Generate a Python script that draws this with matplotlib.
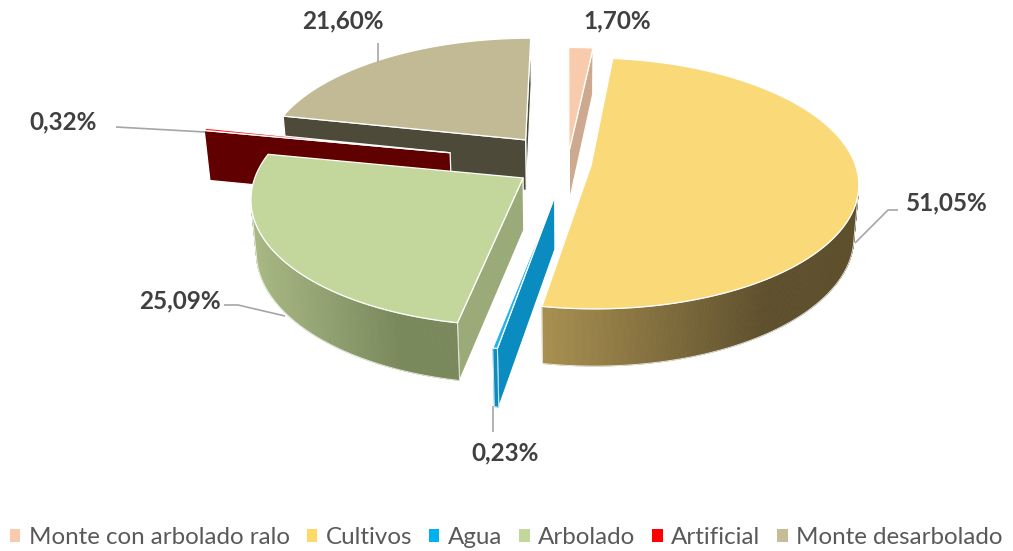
import numpy as np
import matplotlib
matplotlib.use("Agg")
import matplotlib.pyplot as plt
from matplotlib.patches import Polygon, Patch

# ---------------- data ----------------
categories = ["Monte con arbolado ralo", "Cultivos", "Agua", "Arbolado",
              "Artificial", "Monte desarbolado"]
shares = [1.70, 51.05, 0.23, 25.09, 0.32, 21.60]
value_labels = ["1,70%", "51,05%", "0,23%", "25,09%", "0,32%", "21,60%"]

# ---------------- styles ----------------
top_colors = ["#F8CBAD", "#F9D978", "#22B4EE", "#C3D69B", "#FF1A1A", "#C1BA94"]
legend_colors = ["#F8CBAD", "#FFD966", "#00B0F0", "#C3D69B", "#FF0000", "#C4BD97"]
wall_colors = [("#CDAA8F", "#CDAA8F"), ("#A89050", "#5E4F2D"), ("#0A8CC0", "#0A8CC0"),
               ("#A9B985", "#7A895C"), ("#600000", "#600000"), ("#4F4A3A", "#4F4A3A")]
radial_colors = ["#CDAA8F", "#6B5A33", "#0A8CC0", "#9AAA78", "#600000", "#4E4A3A"]
explode = [0.10, 0.09, 0.26, 0.20, 0.46, 0.26]

# projection (pixel space)
CX, CY = 567.5, 164.0
A = 264.0
S = 0.464
C = np.sqrt(1 - S ** 2)
K = 0.142
H = 0.224
DIST = C / K
CAM = np.array([0.0, -DIST * C, DIST * S])


def proj(x, y, z):
    x = np.asarray(x, float); y = np.asarray(y, float); z = np.asarray(z, float)
    den = 1 + K * y - K * (S / C) * z
    sx = CX + A * x / den
    sy = CY - (A * S * y + A * C * z) / den
    return sx, sy


def poly(xs, ys, zs):
    sx, sy = proj(xs, ys, zs)
    return np.column_stack([sx, sy])


def mix(c1, c2, f):
    a = np.array(matplotlib.colors.to_rgb(c1))
    b = np.array(matplotlib.colors.to_rgb(c2))
    return tuple(a + (b - a) * f)


fig = plt.figure(figsize=(10.13, 5.51), dpi=100)
ax = fig.add_axes([0, 0, 1, 1])
ax.set_xlim(0, 1013)
ax.set_ylim(551, 0)
ax.axis("off")

cum = np.concatenate([[0], np.cumsum(shares)]) / np.sum(shares)
slices = []
for i in range(len(shares)):
    a1 = np.deg2rad(90 - 360 * cum[i])
    a0 = np.deg2rad(90 - 360 * cum[i + 1])
    mid = (a0 + a1) / 2
    o = explode[i] * np.array([np.cos(mid), np.sin(mid)])
    key = o[1] + 0.5 * np.sin(mid)
    slices.append((key, i, a0, a1, o))
slices.sort(key=lambda s: -s[0])

edge_kw = dict(edgecolor="white", linewidth=0.9, joinstyle="round")

for key, i, a0, a1, o in slices:
    ox, oy = o
    # radial faces
    for a, n in ((a0, np.array([np.sin(a0), -np.cos(a0)])),
                 (a1, np.array([-np.sin(a1), np.cos(a1)]))):
        u = np.array([np.cos(a), np.sin(a)])
        pm = np.array([ox + 0.5 * u[0], oy + 0.5 * u[1], -H / 2])
        if np.dot(np.array([n[0], n[1], 0.0]), CAM - pm) > 0:
            xs = [ox, ox + u[0], ox + u[0], ox]
            ys = [oy, oy + u[1], oy + u[1], oy]
            zs = [0, 0, -H, -H]
            ax.add_patch(Polygon(poly(xs, ys, zs), closed=True,
                                 facecolor=radial_colors[i], **edge_kw))
    # outer wall
    n_seg = max(4, int(np.degrees(a1 - a0) * 2))
    t = np.linspace(a0, a1, n_seg + 1)
    tm = (t[:-1] + t[1:]) / 2
    vis = []
    for tt in tm:
        p = np.array([ox + np.cos(tt), oy + np.sin(tt), -H / 2])
        vis.append(np.dot(np.array([np.cos(tt), np.sin(tt), 0.0]), CAM - p) > 0)
    vis = np.array(vis)
    if vis.any():
        idx = np.where(vis)[0]
        sx_vis, _ = proj(ox + np.cos(tm[idx]), oy + np.sin(tm[idx]), 0 * tm[idx])
        xmin, xmax = sx_vis.min(), sx_vis.max()
        for j in idx:
            xs = [ox + np.cos(t[j]), ox + np.cos(t[j + 1]), ox + np.cos(t[j + 1]), ox + np.cos(t[j])]
            ys = [oy + np.sin(t[j]), oy + np.sin(t[j + 1]), oy + np.sin(t[j + 1]), oy + np.sin(t[j])]
            zs = [0, 0, -H, -H]
            sxm, _ = proj(ox + np.cos(tm[j]), oy + np.sin(tm[j]), 0)
            f = 0 if xmax - xmin < 1 else (sxm - xmin) / (xmax - xmin)
            f = min(1.0, f * 1.4)
            col = mix(wall_colors[i][0], wall_colors[i][1], f)
            ax.add_patch(Polygon(poly(xs, ys, zs), closed=True, facecolor=col,
                                 edgecolor=col, linewidth=0.6))
        # outline of contiguous runs
        runs = np.split(idx, np.where(np.diff(idx) > 1)[0] + 1)
        for r in runs:
            tt = t[r[0]:r[-1] + 2]
            xs = np.concatenate([ox + np.cos(tt), ox + np.cos(tt[::-1])])
            ys = np.concatenate([oy + np.sin(tt), oy + np.sin(tt[::-1])])
            zs = np.concatenate([np.zeros_like(tt), -H * np.ones_like(tt)])
            ax.add_patch(Polygon(poly(xs, ys, zs), closed=True, facecolor="none",
                                 edgecolor="white", linewidth=0.7, alpha=0.8))
    # top face
    tt = np.linspace(a0, a1, max(3, int(np.degrees(a1 - a0) * 2)))
    xs = np.concatenate([[ox], ox + np.cos(tt)])
    ys = np.concatenate([[oy], oy + np.sin(tt)])
    zs = np.zeros_like(xs)
    ax.add_patch(Polygon(poly(xs, ys, zs), closed=True, facecolor=top_colors[i], **edge_kw))

# ---------------- labels ----------------
label_pos = {0: (617, 21), 1: (947, 203), 2: (505, 453), 3: (180, 301), 4: (63, 122), 5: (343, 21)}
leaders = {1: [(898, 210), (888, 210), (855, 243)],
           2: [(493, 406), (493, 432)],
           3: [(224, 305), (238, 305), (285, 316)],
           4: [(116, 127), (205, 132)],
           5: [(378, 43), (378, 62)]}
for i, pts in leaders.items():
    pts = np.array(pts)
    ax.plot(pts[:, 0], pts[:, 1], color="#A6A6A6", lw=1.2, solid_capstyle="butt")
for i, (x, y) in label_pos.items():
    ax.text(x, y, value_labels[i], ha="center", va="center", fontsize=17.5,
            fontweight="bold", color="#404040", family="Lato")

# ---------------- legend ----------------
handles = [Patch(facecolor=c, edgecolor="none") for c in legend_colors]
fig.legend(handles, categories, loc="center", bbox_to_anchor=(0.5, 0.024), ncol=6,
           frameon=False, handlelength=0.42, handleheight=0.42, handletextpad=0.36,
           columnspacing=0.7, borderpad=0, borderaxespad=0,
           prop={"family": "Lato", "size": 17.4}, labelcolor="#595959")

fig.savefig("out.png", dpi=100)
